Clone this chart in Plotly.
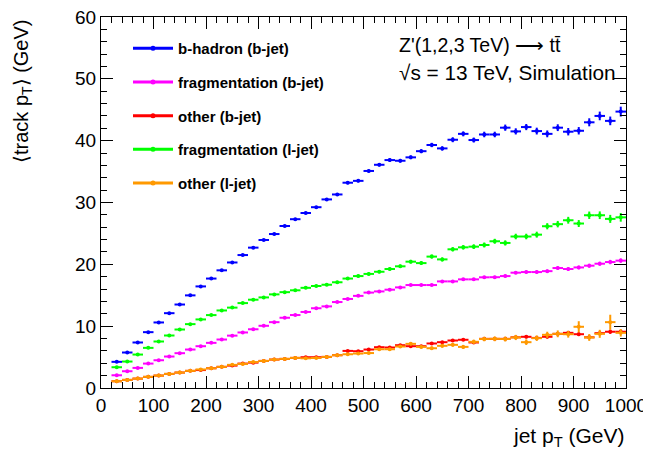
import plotly.graph_objects as go

# ---- data ----
bin_centers = list(range(30, 1000, 20))
bin_half_width = [10] * len(bin_centers)

bhad_b = [4.23, 5.74, 7.36, 9.03, 10.6, 12.1, 13.5, 14.98, 16.43, 17.7,
          19.03, 20.3, 21.5, 22.7, 23.94, 24.9, 26.2, 27.3, 28.3, 29.24,
          30.5, 31.3, 33.2, 33.5, 35.1, 36.1, 36.86, 36.75, 37.3, 38.3,
          39.3, 38.75, 40.15, 41.1, 40.1, 41.0, 41.0, 42.1, 41.5, 42.2,
          41.55, 41.1, 42.1, 41.45, 41.6, 42.97, 44.0, 43.2, 44.7]
bhad_b_err = [0.15, 0.15, 0.15, 0.15, 0.15, 0.15, 0.15, 0.15, 0.15, 0.15,
              0.15, 0.15, 0.18, 0.18, 0.18, 0.2, 0.2, 0.2, 0.2, 0.2,
              0.22, 0.22, 0.25, 0.25, 0.25, 0.28, 0.3, 0.3, 0.3, 0.32,
              0.35, 0.35, 0.4, 0.4, 0.4, 0.45, 0.45, 0.5, 0.5, 0.5,
              0.55, 0.55, 0.55, 0.6, 0.6, 0.65, 0.7, 0.7, 0.8]

frag_b = [2.06, 2.71, 3.25, 3.95, 4.49, 5.09, 5.63, 6.22, 6.76, 7.3,
          7.84, 8.47, 8.98, 9.5, 10.06, 10.65, 11.36, 11.8, 12.3, 12.9,
          13.2, 13.9, 14.4, 14.9, 15.43, 15.62, 15.9, 16.27, 16.65, 16.65,
          16.65, 17.24, 17.24, 17.57, 17.57, 17.9, 17.92, 18.1, 18.65, 18.75,
          18.75, 18.9, 19.4, 19.24, 19.5, 19.78, 20.1, 20.37, 20.6]
frag_b_err = [0.1, 0.1, 0.1, 0.1, 0.1, 0.1, 0.1, 0.1, 0.1, 0.1,
              0.1, 0.1, 0.1, 0.1, 0.12, 0.12, 0.12, 0.12, 0.12, 0.12,
              0.14, 0.14, 0.14, 0.15, 0.15, 0.15, 0.16, 0.16, 0.17, 0.17,
              0.18, 0.18, 0.2, 0.2, 0.2, 0.22, 0.22, 0.24, 0.24, 0.25,
              0.26, 0.27, 0.28, 0.3, 0.3, 0.32, 0.33, 0.35, 0.35]

other_b = [1.09, 1.31, 1.52, 1.8, 2.01, 2.28, 2.5, 2.77, 2.9, 3.19,
           3.42, 3.62, 3.95, 4.1, 4.38, 4.6, 4.71, 4.87, 4.98, 4.98,
           5.03, 5.3, 6.0, 5.95, 6.22, 6.6, 6.55, 6.92, 6.76, 6.76,
           7.2, 7.41, 7.68, 7.8, 7.36, 7.95, 7.95, 7.95, 8.2, 8.28,
           8.1, 8.28, 8.76, 8.92, 8.7, 8.2, 8.87, 9.1, 9.1]
other_b_err = [0.08, 0.08, 0.08, 0.08, 0.08, 0.08, 0.08, 0.08, 0.08, 0.08,
               0.08, 0.08, 0.1, 0.1, 0.1, 0.1, 0.1, 0.1, 0.1, 0.12,
               0.12, 0.12, 0.14, 0.14, 0.14, 0.15, 0.15, 0.16, 0.16, 0.17,
               0.18, 0.18, 0.2, 0.2, 0.2, 0.22, 0.22, 0.24, 0.24, 0.25,
               0.26, 0.27, 0.28, 0.3, 0.3, 0.32, 0.33, 0.35, 0.35]

frag_l = [3.36, 4.28, 5.41, 6.49, 7.52, 8.49, 9.46, 10.33, 11.09, 11.79,
          12.54, 13.0, 13.73, 14.28, 14.65, 15.14, 15.5, 15.8, 16.2, 16.5,
          16.7, 17.1, 17.7, 18.1, 18.45, 18.8, 19.24, 19.68, 20.43, 20.2,
          21.25, 20.8, 22.43, 22.75, 22.86, 23.13, 23.73, 23.46, 24.5, 24.5,
          24.8, 26.16, 26.5, 27.13, 26.6, 27.94, 27.94, 27.35, 27.6]
frag_l_err = [0.12, 0.12, 0.12, 0.12, 0.12, 0.12, 0.12, 0.12, 0.14, 0.14,
              0.14, 0.15, 0.15, 0.16, 0.16, 0.17, 0.18, 0.18, 0.2, 0.2,
              0.2, 0.22, 0.22, 0.24, 0.25, 0.25, 0.27, 0.28, 0.3, 0.3,
              0.32, 0.33, 0.35, 0.36, 0.38, 0.4, 0.4, 0.42, 0.45, 0.45,
              0.48, 0.5, 0.52, 0.55, 0.56, 0.6, 0.62, 0.65, 0.7]

other_l = [1.09, 1.31, 1.52, 1.8, 2.01, 2.28, 2.5, 2.77, 3.0, 3.19,
           3.42, 3.74, 3.9, 4.2, 4.38, 4.6, 4.71, 4.87, 4.8, 4.85,
           5.03, 5.3, 5.46, 5.57, 5.65, 6.27, 6.27, 6.71, 7.14, 6.65,
           6.43, 6.82, 6.98, 6.65, 7.47, 7.92, 7.95, 7.92, 8.17, 7.41,
           8.06, 8.6, 8.76, 8.7, 9.9, 8.17, 8.76, 10.65, 8.92]
other_l_err = [0.08, 0.08, 0.08, 0.08, 0.08, 0.08, 0.08, 0.08, 0.1, 0.1,
               0.1, 0.1, 0.1, 0.12, 0.12, 0.12, 0.12, 0.14, 0.14, 0.15,
               0.15, 0.16, 0.17, 0.18, 0.2, 0.2, 0.22, 0.24, 0.25, 0.26,
               0.28, 0.3, 0.3, 0.32, 0.34, 0.36, 0.38, 0.4, 0.42, 0.45,
               0.45, 0.5, 0.55, 0.55, 0.9, 0.55, 0.65, 1.2, 0.6]

series = [
    ("b-hadron (b-jet)", bhad_b, bhad_b_err, "#0000ff"),
    ("fragmentation (b-jet)", frag_b, frag_b_err, "#ff00ff"),
    ("other (b-jet)", other_b, other_b_err, "#ff0000"),
    ("fragmentation (l-jet)", frag_l, frag_l_err, "#00ff00"),
    ("other (l-jet)", other_l, other_l_err, "#ff9900"),
]

FONT = "Liberation Sans, Arial, Helvetica, sans-serif"

# page body has an 8px default margin -> figure is offset by 8px
W, H = 643, 447
ML, MR, MT, MB = 93, 25, 9, 67
PW = W - ML - MR   # 525
PH = H - MT - MB   # 371


def px_x(page_x):
    return (page_x - 8 - ML) / PW


def px_y(page_y):
    return 1 - (page_y - 8 - MT) / PH


fig = go.Figure()
for i, (name, vals, errs, col) in enumerate(series):
    fig.add_trace(go.Scatter(
        x=bin_centers, y=vals, name=name, mode="markers",
        marker=dict(color=col, size=4, symbol="circle"),
        error_x=dict(type="data", array=bin_half_width, color=col, thickness=2, width=0),
        error_y=dict(type="data", array=errs, color=col, thickness=2, width=0),
        legendgroup=f"g{i}",
        showlegend=False,
    ))
    fig.add_trace(go.Scatter(
        x=[None], y=[None], name=name, mode="lines+markers",
        line=dict(color=col, width=3),
        marker=dict(color=col, size=5, symbol="circle"),
        legendgroup=f"g{i}", showlegend=True,
    ))

axis_common = dict(
    showline=True, linecolor="black", linewidth=1.3, mirror="allticks",
    ticks="inside", ticklen=12, tickwidth=1.3, tickcolor="black",
    showgrid=False, zeroline=False, automargin=False,
    ticklabeloverflow="allow",
    tickfont=dict(family=FONT, size=19, color="black"),
)
fig.update_xaxes(range=[0, 1000], dtick=100, tick0=0,
                 minor=dict(dtick=20, ticks="inside", ticklen=6, tickwidth=1.3, tickcolor="black"),
                 **axis_common)
fig.update_yaxes(range=[0, 60], dtick=10, tick0=0,
                 minor=dict(dtick=2, ticks="inside", ticklen=6, tickwidth=1.3, tickcolor="black"),
                 **axis_common)

fig.update_layout(
    width=W, height=H,
    margin=dict(l=ML, r=MR, t=MT, b=MB),
    paper_bgcolor="white", plot_bgcolor="white",
    font=dict(family=FONT, color="black"),
    legend=dict(x=px_x(128), y=px_y(32), xanchor="left", yanchor="top",
                bgcolor="rgba(0,0,0,0)", borderwidth=0,
                tracegroupgap=11.2, itemwidth=40,
                font=dict(family=FONT, size=15, color="black", weight="bold")),
    annotations=[
        dict(text="Z'(1,2,3 TeV) ⟶ tt\u0304", x=px_x(397), y=px_y(45),
             xref="paper", yref="paper", xanchor="left", yanchor="middle",
             showarrow=False, font=dict(family=FONT, size=19.5)),
        dict(text="√s = 13 TeV, Simulation", x=px_x(397), y=px_y(72),
             xref="paper", yref="paper", xanchor="left", yanchor="middle",
             showarrow=False, font=dict(family=FONT, size=20.8)),
        dict(text="jet p<sub>T</sub> (GeV)", x=px_x(627), y=px_y(437),
             xref="paper", yref="paper", xanchor="right", yanchor="middle",
             showarrow=False, font=dict(family=FONT, size=21)),
        dict(text="⟨track p<sub>T</sub>⟩ (GeV)", x=px_x(22), y=px_y(17),
             xref="paper", yref="paper", xanchor="center", yanchor="top",
             textangle=-90, showarrow=False, font=dict(family=FONT, size=20)),
    ],
)

fig.write_html("out.html")
